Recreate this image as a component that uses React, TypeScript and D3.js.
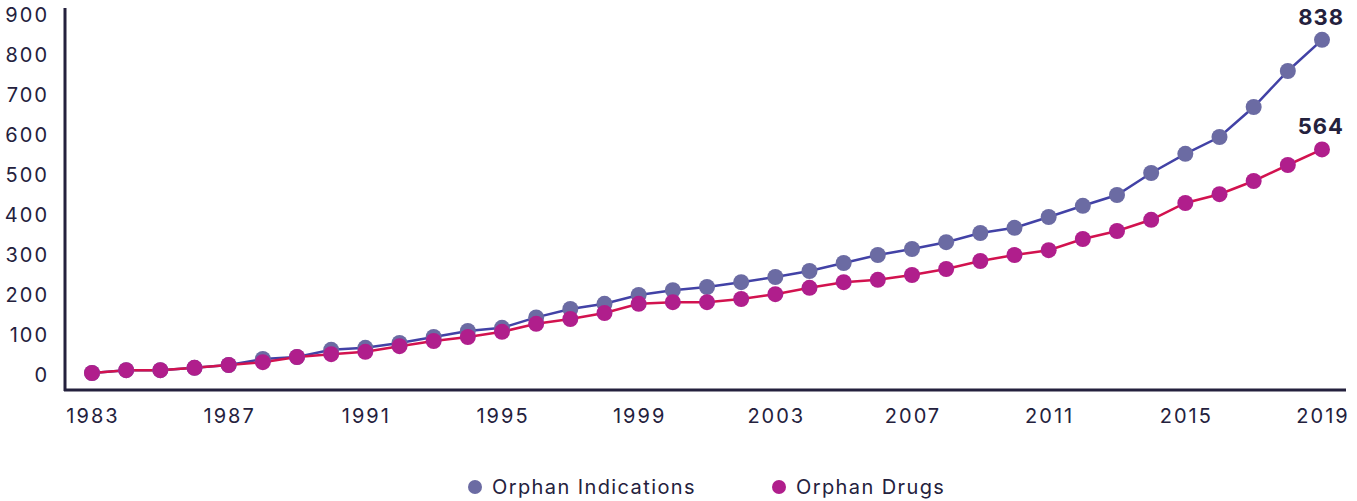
import React, { useEffect, useRef } from 'react';
import * as d3 from 'd3';

const years = d3.range(1983, 2020);

const orphanIndications = [
  5, 12, 12, 18, 25, 40, 45, 63, 68, 80, 95, 110, 118, 144, 165, 178, 200, 212, 220, 232,
  245, 260, 280, 300, 315, 332, 355, 368, 395, 423, 450, 505, 553, 595, 670, 760, 838,
];

const orphanDrugs = [
  5, 12, 12, 18, 25, 32, 45, 52, 58, 72, 85, 95, 108, 128, 140, 155, 178, 182, 182, 190,
  202, 218, 232, 238, 250, 265, 285, 300, 312, 340, 360, 388, 430, 452, 485, 525, 564,
];

const yTicks = [0, 100, 200, 300, 400, 500, 600, 700, 800, 900];
const xTicks = [1983, 1987, 1991, 1995, 1999, 2003, 2007, 2011, 2015, 2019];

const seriesNames = ['Orphan Indications', 'Orphan Drugs'];

const App = () => {
  const svgRef = useRef<SVGSVGElement>(null);

  useEffect(() => {
    const svg = d3.select(svgRef.current);
    const width = 1357;
    const height = 501;
    const ink = '#24213d';
    const font = 'Inter, sans-serif';

    const series = [
      { name: seriesNames[0], values: orphanIndications, dot: '#6b6ba3', line: '#4242a6' },
      { name: seriesNames[1], values: orphanDrugs, dot: '#b01e8c', line: '#d2124f' },
    ];

    const x = d3.scaleLinear().domain([1983, 2019]).range([92, 1322]);
    const y = d3.scaleLinear().domain([0, 900]).range([375, 15]);

    svg.attr('width', width).attr('height', height);

    // axes lines
    svg.append('line')
      .attr('x1', 65).attr('x2', 65).attr('y1', 8).attr('y2', 391)
      .attr('stroke', ink).attr('stroke-width', 3);
    svg.append('line')
      .attr('x1', 64).attr('x2', 1346).attr('y1', 390).attr('y2', 390)
      .attr('stroke', ink).attr('stroke-width', 3);

    // y tick labels
    svg.append('g')
      .selectAll('text')
      .data(yTicks)
      .enter()
      .append('text')
      .attr('x', 49)
      .attr('y', (d) => y(d))
      .attr('dy', '0.36em')
      .attr('text-anchor', 'end')
      .attr('font-family', font)
      .attr('font-size', 20)
      .attr('letter-spacing', 2)
      .attr('fill', ink)
      .text((d) => d);

    // x tick labels
    svg.append('g')
      .selectAll('text')
      .data(xTicks)
      .enter()
      .append('text')
      .attr('x', (d) => x(d) + 1)
      .attr('y', 423)
      .attr('text-anchor', 'middle')
      .attr('font-family', font)
      .attr('font-size', 20)
      .attr('letter-spacing', 2)
      .attr('fill', ink)
      .text((d) => d);

    const line = d3.line<number>()
      .x((_, i) => x(years[i]))
      .y((d) => y(d));

    series.forEach((s) => {
      svg.append('path')
        .datum(s.values)
        .attr('fill', 'none')
        .attr('stroke', s.line)
        .attr('stroke-width', 2.5)
        .attr('d', line);
    });

    series.forEach((s) => {
      svg.append('g')
        .selectAll('circle')
        .data(s.values)
        .enter()
        .append('circle')
        .attr('cx', (_, i) => x(years[i]))
        .attr('cy', (d) => y(d))
        .attr('r', 8)
        .attr('fill', s.dot);
    });

    // end value labels
    series.forEach((s) => {
      const last = s.values[s.values.length - 1];
      svg.append('text')
        .attr('x', x(2019) + 22)
        .attr('y', y(last) - 15)
        .attr('text-anchor', 'end')
        .attr('font-family', font)
        .attr('font-size', 22)
        .attr('font-weight', 700)
        .attr('letter-spacing', 1)
        .attr('fill', ink)
        .text(last);
    });

    // legend
    const legendItems = [
      { cx: 475, s: series[0] },
      { cx: 779, s: series[1] },
    ];
    legendItems.forEach((l) => {
      svg.append('circle')
        .attr('cx', l.cx).attr('cy', 487).attr('r', 7)
        .attr('fill', l.s.dot);
      svg.append('text')
        .attr('x', l.cx + 17)
        .attr('y', 494)
        .attr('font-family', font)
        .attr('font-size', 20)
        .attr('letter-spacing', 1.4)
        .attr('fill', ink)
        .text(l.s.name);
    });

    return () => {
      svg.selectAll('*').remove();
    };
  }, []);

  return (
    <svg
      ref={svgRef}
      style={{ position: 'absolute', left: 0, top: 0, display: 'block' }}
    ></svg>
  );
};

export default App;
